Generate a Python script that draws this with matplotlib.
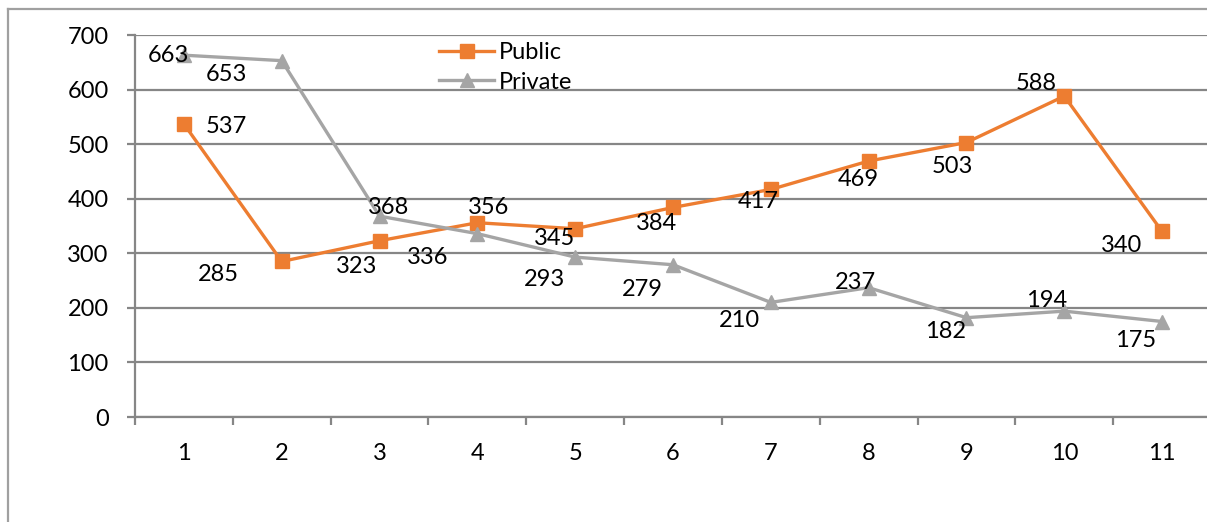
import matplotlib.pyplot as plt
from matplotlib.lines import Line2D

categories = [1, 2, 3, 4, 5, 6, 7, 8, 9, 10, 11]
public = [537, 285, 323, 356, 345, 384, 417, 469, 503, 588, 340]
private = [663, 653, 368, 336, 293, 279, 210, 237, 182, 194, 175]

# label offsets in pixels (dx, dy) relative to each marker
public_off = [(42, -3), (-63, -13), (-23, -26), (11, 15), (-21, -10), (-17, -16),
              (-13, -12), (-10, -18), (-14, -24), (-28, 13), (-41, -14)]
private_off = [(-15, 0), (-55, -14), (9, 9), (-50, -24), (-31, -22), (-31, -25),
               (-31, -18), (-13, 5), (-21, -14), (-18, 11), (-27, -19)]

ORANGE = "#ED7D31"
GRAY = "#A5A5A5"
GRID = "#868686"
FS = 17

plt.rcParams["font.family"] = ["Lato", "DejaVu Sans"]

fig = plt.figure(figsize=(12.07, 5.22), dpi=100)
ax = fig.add_axes([135 / 1207, 1 - 417 / 522, 1076 / 1207, 382 / 522])

ax.plot(categories, public, color=ORANGE, lw=2.4, marker="s", ms=10, label="Public", zorder=3)
ax.plot(categories, private, color=GRAY, lw=2.4, marker="^", ms=10, label="Private", zorder=3)

for x, y, (dx, dy) in zip(categories, public, public_off):
    ax.annotate(str(y), (x, y), xytext=(dx, dy), textcoords="offset pixels",
                ha="center", va="center", fontsize=FS, color="black", zorder=4)
for x, y, (dx, dy) in zip(categories, private, private_off):
    ax.annotate(str(y), (x, y), xytext=(dx, dy), textcoords="offset pixels",
                ha="center", va="center", fontsize=FS, color="black", zorder=4)

ax.set_xlim(0.5, 11.5)
ax.set_ylim(0, 700)
ax.set_yticks(range(0, 701, 100))
ax.yaxis.grid(True, color=GRID, lw=1.6)
ax.set_axisbelow(True)

ax.set_xticks([i + 0.5 for i in range(0, 12)])
ax.set_xticklabels([])
ax.set_xticks(categories, minor=True)
ax.set_xticklabels([str(c) for c in categories], minor=True)
ax.tick_params(axis="x", which="major", length=6, width=1.6, color=GRID, direction="out")
ax.tick_params(axis="x", which="minor", length=0, pad=19, labelsize=FS)
ax.tick_params(axis="y", length=6, width=1.6, color=GRID, pad=13, labelsize=FS)

for s in ["top", "right"]:
    ax.spines[s].set_visible(False)
for s in ["left", "bottom"]:
    ax.spines[s].set_color(GRID)
    ax.spines[s].set_linewidth(1.6)

ax.legend(loc="upper left", bbox_to_anchor=(295 / 1076, 1 + 2 / 382), frameon=False,
          fontsize=FS, handlelength=2.3, handletextpad=0.2, labelspacing=0.35,
          borderaxespad=0.0)

# outer chart border (only top and left visible in the crop)
fig.add_artist(Line2D([8 / 1207, 8 / 1207], [0, 1 - 9 / 522], color="#A0A0A0", lw=1.6,
                      transform=fig.transFigure))
fig.add_artist(Line2D([8 / 1207, 1], [1 - 9 / 522, 1 - 9 / 522], color="#A0A0A0", lw=1.6,
                      transform=fig.transFigure))

fig.savefig("out.png", dpi=100)
